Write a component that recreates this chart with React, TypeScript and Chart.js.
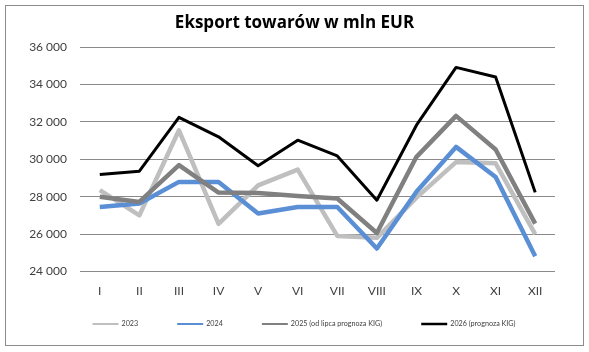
import React, { useEffect, useRef } from "react";
import { Chart, registerables } from "chart.js";

Chart.register(...registerables);

const categories = ["I", "II", "III", "IV", "V", "VI", "VII", "VIII", "IX", "X", "XI", "XII"];
const series2023 = [28350, 27000, 31550, 26550, 28600, 29450, 25900, 25800, 27950, 29850, 29780, 26000];
const series2024 = [27450, 27630, 28790, 28790, 27100, 27450, 27450, 25230, 28260, 30660, 29050, 24820];
const series2025 = [27990, 27720, 29690, 28220, 28200, 28030, 27900, 26060, 30130, 32320, 30520, 26560];
const series2026 = [29190, 29360, 32240, 31200, 29650, 31020, 30180, 27810, 31820, 34910, 34400, 28230];
const seriesLabels = ["2023", "2024", "2025 (od lipca prognoza KIG)", "2026 (prognoza KIG)"];
const yTicks = [24000, 26000, 28000, 30000, 32000, 34000, 36000];

const FONT = "Lato, 'Liberation Sans', sans-serif";
const TITLE_FONT = "'Open Sans', Lato, sans-serif";

export default function App() {
  const ref = useRef<HTMLCanvasElement | null>(null);

  useEffect(() => {
    if (!ref.current) return;
    const framePlugin = {
      id: "frame",
      afterDraw(chart: any) {
        const ctx = chart.ctx;
        ctx.save();
        ctx.strokeStyle = "#8c8c8c";
        ctx.lineWidth = 1;
        ctx.strokeRect(5.5, 5.5, 578, 340);
        ctx.restore();
      },
    };
    const legendPlugin = {
      id: "lineLegend",
      afterDraw(chart: any) {
        const ctx = chart.ctx;
        const ds = chart.data.datasets.slice().sort((a: any, b: any) => b.order - a.order);
        ctx.save();
        ctx.font = `7.2px ${FONT}`;
        ctx.textBaseline = "middle";
        ctx.textAlign = "left";
        const lineLen = 26;
        const gapText = 3;
        const gapItem = 39;
        const widths = ds.map((d: any) => lineLen + gapText + ctx.measureText(d.label).width);
        const total = widths.reduce((a: number, b: number) => a + b, 0) + gapItem * (ds.length - 1);
        let x = 304 - total / 2;
        const y = 324;
        ds.forEach((d: any, i: number) => {
          ctx.strokeStyle = d.borderColor;
          ctx.lineWidth = d.borderWidth < 4 ? 2.5 : 2;
          ctx.beginPath();
          ctx.moveTo(x, y);
          ctx.lineTo(x + lineLen, y);
          ctx.stroke();
          ctx.fillStyle = "#404040";
          ctx.fillText(d.label, x + lineLen + gapText, y);
          x += widths[i] + gapItem;
        });
        ctx.restore();
      },
    };
    const chart = new Chart(ref.current, {
      type: "line",
      data: {
        labels: categories,
        datasets: [
          { label: seriesLabels[0], data: series2023, borderColor: "#bfbfbf", backgroundColor: "#bfbfbf", borderWidth: 4.5, order: 3 },
          { label: seriesLabels[1], data: series2024, borderColor: "#5a8fd5", backgroundColor: "#5a8fd5", borderWidth: 4.5, order: 2 },
          { label: seriesLabels[2], data: series2025, borderColor: "#808080", backgroundColor: "#808080", borderWidth: 4.5, order: 1 },
          { label: seriesLabels[3], data: series2026, borderColor: "#000000", backgroundColor: "#000000", borderWidth: 3, order: 0 },
        ].map((d) => ({ ...d, pointRadius: 0, pointHoverRadius: 0, tension: 0, borderJoinStyle: "round" as const, fill: false })),
      },
      options: {
        animation: false,
        responsive: false,
        devicePixelRatio: 1,
        layout: { padding: { left: 0, right: 0, top: 0, bottom: 50.5 } },
        plugins: {
          title: {
            display: true,
            text: "Eksport towarów w mln EUR",
            color: "#000000",
            font: { family: TITLE_FONT, size: 17, weight: "bold" },
            padding: { top: 13, bottom: 13.6 },
          },
          legend: { display: false },
          tooltip: { enabled: false },
        },
        scales: {
          x: {
            type: "category",
            offset: true,
            grid: { display: false },
            border: { display: false },
            ticks: { color: "#404040", font: { family: FONT, size: 12 }, padding: 4, maxRotation: 0, autoSkip: false },
            afterFit(scale: any) {
              scale.height = 30;
            },
          },
          y: {
            min: 24000,
            max: 36000,
            afterBuildTicks(scale: any) {
              scale.ticks = yTicks.map((v) => ({ value: v }));
            },
            grid: { color: "#8a8a8a", lineWidth: 1, drawTicks: false },
            border: { display: false },
            ticks: {
              color: "#404040",
              font: { family: FONT, size: 12 },
              padding: 13,
              callback: (v: any) => {
                const n = Number(v);
                return String(n).replace(/\B(?=(\d{3})+(?!\d))/g, " ");
              },
            },
            afterFit(scale: any) {
              scale.width = 80;
            },
          },
          yRight: {
            position: "right",
            display: true,
            min: 24000,
            max: 36000,
            grid: { display: false, drawTicks: false },
            border: { display: false },
            ticks: { display: false },
            afterFit(scale: any) {
              scale.width = 34;
            },
          },
        },
      },
      plugins: [framePlugin, legendPlugin],
    } as any);
    return () => chart.destroy();
  }, []);

  return (
    <div style={{ position: "fixed", left: 0, top: 0, width: 589, height: 352, background: "#ffffff" }}>
      <canvas ref={ref} width={589} height={352} style={{ width: 589, height: 352, display: "block" }} />
    </div>
  );
}
